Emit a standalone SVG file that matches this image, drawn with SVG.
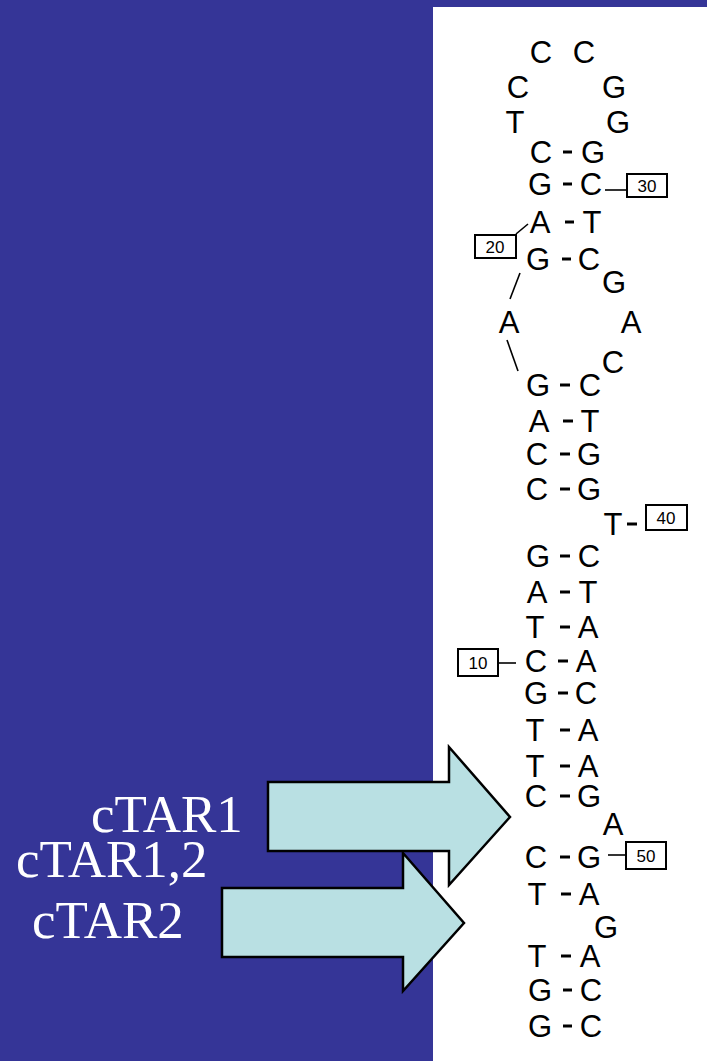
<svg xmlns="http://www.w3.org/2000/svg" width="707" height="1061" viewBox="0 0 707 1061">
<style>
.b{font-family:"Liberation Sans",Arial,sans-serif;font-size:31px;fill:#000;text-anchor:middle}
.n{font-family:"Liberation Sans",Arial,sans-serif;font-size:17px;fill:#000;text-anchor:middle}
.box{fill:#fff;stroke:#000;stroke-width:2}
.d{stroke:#000;stroke-width:3}
.l{stroke:#000;stroke-width:1.6;fill:none}
.lab{font-family:"Liberation Serif","Times New Roman",serif;font-size:53px;fill:#fff}
.arr{fill:#B9E0E3;stroke:#000;stroke-width:2.5;stroke-linejoin:miter}
</style>
<rect x="0" y="0" width="707" height="1061" fill="#353597"/>
<rect x="433" y="7" width="274" height="1054" fill="#fff"/>

<g id="connectors">
<line class="d" x1="563" y1="152" x2="572" y2="152"/>
<line class="d" x1="563" y1="184" x2="572" y2="184"/>
<line class="d" x1="565" y1="222" x2="574" y2="222"/>
<line class="d" x1="562" y1="259" x2="571" y2="259"/>
<line class="d" x1="560" y1="385" x2="570" y2="385"/>
<line class="d" x1="563" y1="421" x2="573" y2="421"/>
<line class="d" x1="560" y1="454" x2="570" y2="454"/>
<line class="d" x1="560" y1="489" x2="570" y2="489"/>
<line class="d" x1="627" y1="524" x2="637" y2="524"/>
<line class="d" x1="560" y1="556" x2="570" y2="556"/>
<line class="d" x1="560" y1="592" x2="570" y2="592"/>
<line class="d" x1="560" y1="627" x2="570" y2="627"/>
<line class="d" x1="558" y1="661" x2="568" y2="661"/>
<line class="d" x1="558" y1="693" x2="568" y2="693"/>
<line class="d" x1="560" y1="730" x2="570" y2="730"/>
<line class="d" x1="560" y1="766" x2="570" y2="766"/>
<line class="d" x1="560" y1="796" x2="570" y2="796"/>
<line class="d" x1="560" y1="857" x2="570" y2="857"/>
<line class="d" x1="561" y1="894" x2="571" y2="894"/>
<line class="d" x1="561" y1="956" x2="571" y2="956"/>
<line class="d" x1="563" y1="990" x2="572" y2="990"/>
<line class="d" x1="563" y1="1026" x2="572" y2="1026"/>
<line class="l" x1="605" y1="190" x2="626" y2="190"/>
<line class="l" x1="516" y1="234" x2="528" y2="224"/>
<line class="l" x1="520" y1="273" x2="510" y2="299"/>
<line class="l" x1="507" y1="340" x2="518" y2="371"/>
<line class="l" x1="498" y1="663" x2="516" y2="663"/>
<line class="l" x1="608" y1="855" x2="626" y2="855"/>
</g>

<g id="loop">
<text class="b" x="541" y="63">C</text>
<text class="b" x="584" y="63">C</text>
<text class="b" x="518" y="98">C</text>
<text class="b" x="614" y="98">G</text>
<text class="b" x="515" y="133">T</text>
<text class="b" x="618" y="133">G</text>
</g>
<g id="pair-CG1"><text class="b" x="541" y="163">C</text><text class="b" x="593" y="163">G</text></g>
<g id="pair-GC1"><text class="b" x="540" y="195">G</text><text class="b" x="591" y="195">C</text></g>
<g id="label-30"><rect class="box" x="627" y="174" width="40" height="23"/><text class="n" x="647" y="192">30</text></g>
<g id="pair-AT1"><text class="b" x="540" y="233">A</text><text class="b" x="592" y="233">T</text></g>
<g id="label-20"><rect class="box" x="475" y="235" width="41" height="23"/><text class="n" x="495" y="253">20</text></g>
<g id="pair-GC2"><text class="b" x="538" y="270">G</text><text class="b" x="589" y="270">C</text></g>
<g id="bulge">
<text class="b" x="614" y="293">G</text>
<text class="b" x="509" y="333">A</text>
<text class="b" x="631" y="333">A</text>
<text class="b" x="613" y="373">C</text>
</g>
<g id="pair-GC3"><text class="b" x="538" y="396">G</text><text class="b" x="590" y="396">C</text></g>
<g id="pair-AT2"><text class="b" x="539" y="432">A</text><text class="b" x="590" y="432">T</text></g>
<g id="pair-CG2"><text class="b" x="537" y="465">C</text><text class="b" x="589" y="465">G</text></g>
<g id="pair-CG3"><text class="b" x="537" y="500">C</text><text class="b" x="589" y="500">G</text></g>
<g id="bulge-T"><text class="b" x="613" y="535">T</text></g>
<g id="label-40"><rect class="box" x="646" y="505" width="41" height="25"/><text class="n" x="666" y="524">40</text></g>
<g id="pair-GC4"><text class="b" x="538" y="567">G</text><text class="b" x="589" y="567">C</text></g>
<g id="pair-AT3"><text class="b" x="537" y="603">A</text><text class="b" x="588" y="603">T</text></g>
<g id="pair-TA1"><text class="b" x="535" y="638">T</text><text class="b" x="588" y="638">A</text></g>
<g id="label-10"><rect class="box" x="458" y="649" width="40" height="27"/><text class="n" x="478" y="669">10</text></g>
<g id="pair-CA"><text class="b" x="536" y="672">C</text><text class="b" x="586" y="672">A</text></g>
<g id="pair-GC5"><text class="b" x="536" y="704">G</text><text class="b" x="586" y="704">C</text></g>
<g id="pair-TA2"><text class="b" x="535" y="741">T</text><text class="b" x="588" y="741">A</text></g>
<g id="pair-TA3"><text class="b" x="535" y="777">T</text><text class="b" x="588" y="777">A</text></g>
<g id="pair-CG4"><text class="b" x="536" y="807">C</text><text class="b" x="589" y="807">G</text></g>
<g id="bulge-A"><text class="b" x="613" y="835">A</text></g>
<g id="pair-CG5"><text class="b" x="536" y="868">C</text><text class="b" x="589" y="868">G</text></g>
<g id="label-50"><rect class="box" x="626" y="842" width="40" height="27"/><text class="n" x="646" y="862">50</text></g>
<g id="pair-TA4"><text class="b" x="537" y="905">T</text><text class="b" x="589" y="905">A</text></g>
<g id="bulge-G"><text class="b" x="606" y="938">G</text></g>
<g id="pair-TA5"><text class="b" x="537" y="967">T</text><text class="b" x="590" y="967">A</text></g>
<g id="pair-GC6"><text class="b" x="540" y="1001">G</text><text class="b" x="591" y="1001">C</text></g>
<g id="pair-GC7"><text class="b" x="540" y="1037">G</text><text class="b" x="591" y="1037">C</text></g>

<g id="arrow-cTAR1"><polygon class="arr" points="268,782 449,782 449,747 510,817 449,885 449,851 268,851"/></g>
<g id="arrow-cTAR2"><polygon class="arr" points="222,888 403,888 403,853 464,923 403,991 403,957 222,957"/></g>
<g id="labels">
<text class="lab" x="91" y="832">cTAR1</text>
<text class="lab" x="16" y="877">cTAR1,2</text>
<text class="lab" x="32" y="938">cTAR2</text>
</g>
</svg>
